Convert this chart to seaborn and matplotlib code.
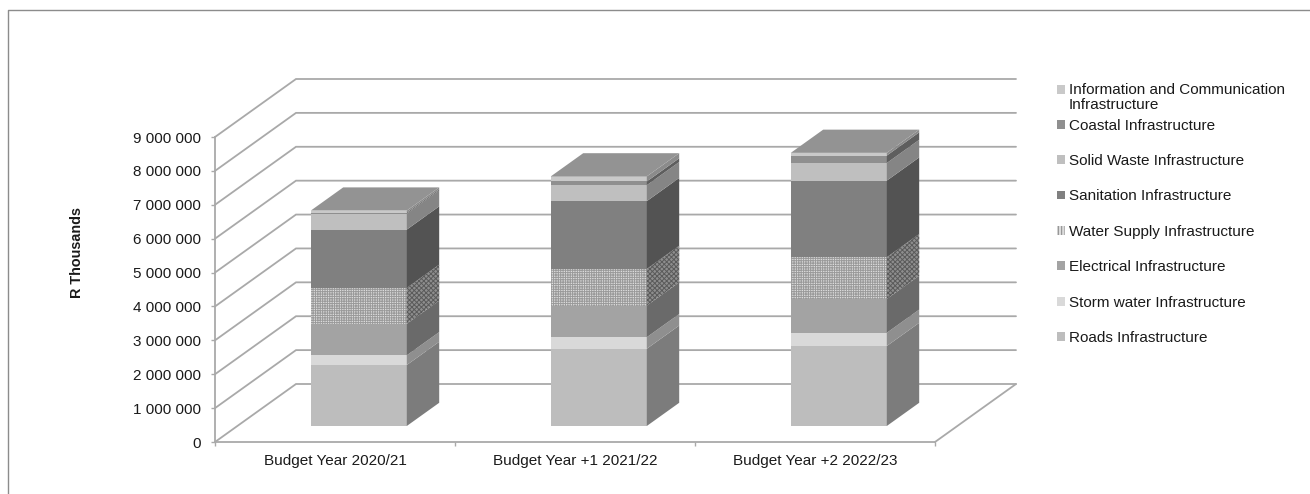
import matplotlib
matplotlib.use("Agg")
import matplotlib.pyplot as plt
import numpy as np
import pandas as pd
import seaborn as sns
from matplotlib.lines import Line2D
from matplotlib.patches import Patch

# Capital budget by infrastructure class, R thousands
years = ["Budget Year 2020/21", "Budget Year +1 2021/22", "Budget Year +2 2022/23"]
roads = [1800000, 2280000, 2360000]
storm_water = [286000, 340000, 390000]
electrical = [930000, 935000, 1000000]
water_supply = [1060000, 1080000, 1230000]
sanitation = [1720000, 2000000, 2260000]
solid_waste = [470000, 470000, 520000]
coastal = [30000, 110000, 220000]
ict = [60000, 150000, 80000]

series = [
    ("Roads Infrastructure", roads, "#bdbdbd", "#7c7c7c", None),
    ("Storm water Infrastructure", storm_water, "#d9d9d9", "#8f8f8f", None),
    ("Electrical Infrastructure", electrical, "#a3a3a3", "#6a6a6a", None),
    ("Water Supply Infrastructure", water_supply, "#dcdcdc", "#8e8e8e", "+++++++"),
    ("Sanitation Infrastructure", sanitation, "#808080", "#535353", None),
    ("Solid Waste Infrastructure", solid_waste, "#bfbfbf", "#858585", None),
    ("Coastal Infrastructure", coastal, "#8f8f8f", "#5e5e5e", None),
    ("Information and Communication\nInfrastructure", ict, "#c9c9c9", "#8b8b8b", None),
]

sns.set_theme(style="white")
plt.rcParams["font.family"] = ["Liberation Sans", "DejaVu Sans"]
plt.rcParams["hatch.linewidth"] = 0.7

W, H = 1310, 494
fig = plt.figure(figsize=(W / 100, H / 100), dpi=100)
ax = fig.add_axes([215 / W, 1 - 442 / H, 720 / W, 305 / H])
ax.patch.set_visible(False)

# Oblique projection: one unit of depth moves a point right and up on the page
depth_x = 81 / 240
depth_y = 58 / 305 * 9e6
bar_width = 0.4
bar_near, bar_far = 0.276, 0.676
positions = np.arange(len(years))
bar_centres = positions + 0.006


def project(x, value, depth):
    return x + depth * depth_x, value + depth * depth_y


# Back wall and left wall gridlines
for level in np.arange(0, 9e6 + 1, 1e6):
    bx, by = project(-0.5, level, 1)
    ax.plot([-0.5, bx, bx + 3], [level, by, by], color="#a9a9a9", lw=1.3,
            clip_on=False, zorder=0.5, solid_joinstyle="miter")
# Floor edge on the right
fx, fy = project(2.5, 0, 1)
ax.plot([2.5, fx], [0, fy], color="#a9a9a9", lw=1.3, clip_on=False, zorder=0.5)

# Front faces, stacked on a base raised by the floor offset of the columns
base_x, base_y = project(bar_centres, 0, bar_near)
cum = np.array(base_y, dtype=float) * np.ones(len(years))
for name, values, front, side, hatch in series:
    values = np.array(values, dtype=float)
    frame = pd.DataFrame({"pos": base_x, "amount": values})
    sns.barplot(data=frame, x="pos", y="amount", native_scale=True, bottom=cum,
                width=bar_width, color=front, saturation=1, linewidth=0,
                edgecolor="#9a9a9a" if hatch else front, hatch=hatch,
                legend=False, errorbar=None, ax=ax, zorder=2)
    # Side faces of this layer
    for i, x0 in enumerate(bar_centres):
        xr = x0 + bar_width / 2
        low, high = cum[i] - base_y, cum[i] - base_y + values[i]
        corners = [project(xr, low, bar_near), project(xr, low, bar_far),
                   project(xr, high, bar_far), project(xr, high, bar_near)]
        xs, ys = zip(*corners)
        ax.fill(xs, ys, facecolor=side, edgecolor="#5a5a5a" if hatch else side,
                lw=0, hatch="xxxxxxx" if hatch else None, clip_on=False, zorder=2)
    cum = cum + values

# Top faces
for i, x0 in enumerate(bar_centres):
    xl, xr = x0 - bar_width / 2, x0 + bar_width / 2
    top = cum[i] - base_y
    corners = [project(xl, top, bar_near), project(xr, top, bar_near),
               project(xr, top, bar_far), project(xl, top, bar_far)]
    xs, ys = zip(*corners)
    ax.fill(xs, ys, facecolor="#939393", edgecolor="#939393", lw=0, clip_on=False, zorder=2)

# Axes
ax.set_xlim(-0.5, 2.5)
ax.set_ylim(0, 9e6)
ax.set_xlabel("")
ax.set_ylabel("")
ax.set_xticks([-0.5, 0.5, 1.5, 2.5])
ax.set_xticklabels([])
ax.set_xticks(positions, labels=years, minor=True)
ax.set_yticks(np.arange(0, 9e6 + 1, 1e6))
ax.set_yticklabels([f"{int(v):,}".replace(",", " ") for v in np.arange(0, 9e6 + 1, 1e6)])
ax.tick_params(axis="y", which="major", left=True, length=3, width=1, color="#a9a9a9",
               pad=7, labelsize=11, labelcolor="#1a1a1a")
ax.tick_params(axis="x", which="major", bottom=True, length=3, width=1, color="#a9a9a9")
ax.tick_params(axis="x", which="minor", bottom=False, length=0, pad=8.5, labelsize=11,
               labelcolor="#1a1a1a")
for s in ("top", "right"):
    ax.spines[s].set_visible(False)
for s in ("left", "bottom"):
    ax.spines[s].set_color("#a9a9a9")
    ax.spines[s].set_linewidth(1.3)

fig.text(77 / W, 1 - 252 / H, "R Thousands", rotation=90, ha="center", va="center",
         fontsize=10.4, fontweight="bold", color="#1a1a1a")


def swatch(front, hatch):
    return Patch(facecolor=front, edgecolor="#8a8a8a" if hatch else front, lw=0,
                 hatch="|||||" if hatch else None)


# The wrapped entry sits above the evenly spaced rows, so it gets a legend of its own
legend_style = dict(frameon=False, fontsize=11, handlelength=0.52, handleheight=0.52,
                    handletextpad=0.26, borderpad=0, borderaxespad=0, labelcolor="#1a1a1a",
                    loc="upper left", bbox_transform=fig.transFigure)
name, _, front, _, hatch = series[-1]
top_legend = ax.legend([swatch(front, hatch)], [name], bbox_to_anchor=(1057 / W, 1 - 82.5 / H),
                       **legend_style)
top_legend.get_texts()[0].set_linespacing(1.15)
# Keep the swatch level with the first line of the wrapped label
top_swatch = top_legend.get_patches()[0]
top_swatch.set_y(top_swatch.get_y() + 5.8)
ax.add_artist(top_legend)
rest = series[-2::-1]
ax.legend([swatch(s[2], s[4]) for s in rest], [s[0] for s in rest],
          bbox_to_anchor=(1057 / W, 1 - 118.5 / H), labelspacing=1.405, **legend_style)

# Outer frame of the chart area
fig.add_artist(Line2D([8 / W, 8 / W, 1], [0, 1 - 10.5 / H, 1 - 10.5 / H],
                      color="#8c8c8c", lw=1, transform=fig.transFigure))

fig.savefig("out.png", dpi=100)
